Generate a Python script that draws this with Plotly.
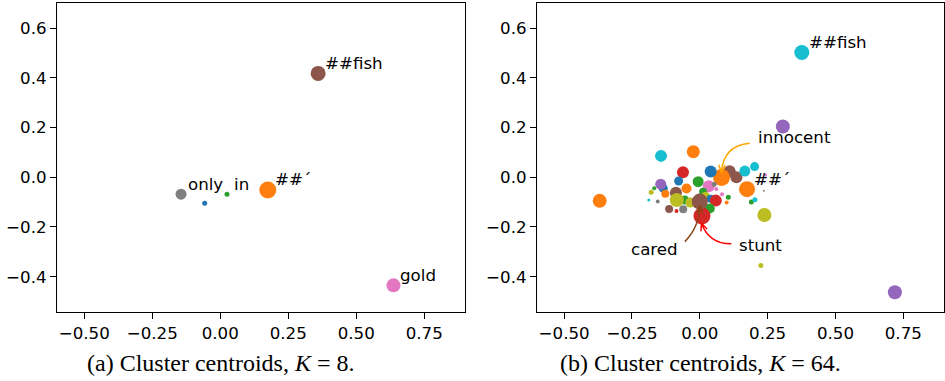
import math
import plotly.graph_objects as go

# ---------------- data ----------------
TAB10 = {
    "blue": "#1f77b4", "orange": "#ff7f0e", "green": "#2ca02c", "red": "#d62728",
    "purple": "#9467bd", "brown": "#8c564b", "pink": "#e377c2", "gray": "#7f7f7f",
    "olive": "#bcbd22", "cyan": "#17becf",
}

# Panel (a): K = 8
k8_x = [-0.057, 0.175, 0.025, 0.360, 0.637, -0.144]
k8_y = [-0.105, -0.051, -0.068, 0.418, -0.435, -0.068]
k8_size = [5, 17, 5, 15, 14, 11]
k8_color = ["blue", "orange", "green", "brown", "pink", "gray"]
k8_label = ["", "##´", "in", "##fish", "gold", "only"]

# Panel (b): K = 64
k64_x = [0.376, 0.306, 0.719, 0.238, 0.225, -0.369, -0.143, -0.024, 0.110, 0.135,
         0.080, 0.166, 0.202, 0.040, -0.062, -0.078, -0.135, -0.144, -0.006, 0.033,
         0.053, 0.061, 0.082, -0.049, -0.088, -0.127, -0.168, -0.179, -0.188, -0.155,
         0.012, 0.021, -0.055, -0.085, -0.035, 0.040, 0.059, 0.037, 0.008, 0.000,
         -0.061, -0.113, -0.086, 0.105, 0.099, 0.190, 0.203, 0.236, 0.243, 0.174]
k64_y = [0.502, 0.204, -0.463, -0.152, -0.355, -0.095, 0.086, 0.103, 0.024, 0.000,
         -0.001, 0.025, 0.043, 0.023, 0.020, -0.015, -0.044, -0.028, -0.018, -0.036,
         -0.028, -0.047, -0.068, -0.045, -0.062, -0.066, -0.044, -0.060, -0.092, -0.098,
         -0.058, -0.076, -0.092, -0.092, -0.102, -0.086, -0.094, -0.126, -0.156, -0.098,
         -0.129, -0.128, -0.136, -0.080, -0.102, -0.100, -0.091, -0.054, 0.009, -0.048]
k64_size = [15, 14, 14, 14, 5, 14, 12, 13, 12, 12,
            17, 11, 9, 12, 12, 9, 9, 11, 11, 12,
            5, 4, 4, 10, 12, 8, 4, 5, 3, 4,
            8, 9, 9, 14, 10, 8, 12, 10, 17, 16,
            8, 8, 4, 5, 4, 5, 5, 2, 3, 16]
k64_color = ["cyan", "purple", "purple", "olive", "olive", "orange", "cyan", "orange", "brown", "brown",
             "orange", "cyan", "cyan", "blue", "red", "blue", "blue", "purple", "green", "pink",
             "gray", "pink", "pink", "orange", "brown", "orange", "green", "olive", "cyan", "gray",
             "green", "olive", "green", "olive", "olive", "blue", "red", "green", "red", "brown",
             "gray", "brown", "red", "green", "orange", "green", "cyan", "gray", "pink", "orange"]
k64_label = ["##fish"] + [""] * 48 + ["##´"]

# Curved-arrow annotations in panel (b): word, text anchor, arrow start, arrow tip, bend, colour
arrow_words = ["innocent", "cared", "stunt"]
arrow_text_xy = [(0.2085, 0.161), (-0.167, -0.290), (0.136, -0.275)]
arrow_text_anchor = ["left", "center", "left"]
arrow_start = [(0.184, 0.137), (-0.055, -0.259), (0.116, -0.268)]
arrow_tip = [(0.080, 0.020), (0.000, -0.115), (0.006, -0.185)]
arrow_rad = [0.43, 0.2, -0.35]
arrow_color = ["#ffa500", "#8b4513", "#ff0000"]

x_tickvals = [-0.5, -0.25, 0.0, 0.25, 0.5, 0.75]
x_ticktext = ["−0.50", "−0.25", "0.00", "0.25", "0.50", "0.75"]
y_tickvals = [-0.4, -0.2, 0.0, 0.2, 0.4, 0.6]
y_ticktext = ["−0.4", "−0.2", "0.0", "0.2", "0.4", "0.6"]

captions = ["(a) Cluster centroids, <i>K</i> = 8.", "(b) Cluster centroids, <i>K</i> = 64."]

# ---------------- layout constants ----------------
W, H = 945, 381
X_RANGE = [-0.6, 0.9]
Y_RANGE = [-0.541, 0.70]
DOM_X1 = [57 / W, 465 / W]
DOM_X2 = [537 / W, 944 / W]
DOM_Y = [(H - 311.7) / H, (H - 3.3) / H]
SANS = "DejaVu Sans"
FS = 16.67

fig = go.Figure()

def add_panel(xs, ys, sizes, colors, labels, xa, ya):
    for x, y, s, c in zip(xs, ys, sizes, colors):
        fig.add_trace(go.Scatter(
            x=[x], y=[y], mode="markers", xaxis=xa, yaxis=ya, showlegend=False,
            marker=dict(size=s, color=TAB10[c], line=dict(width=0)),
            hoverinfo="skip"))
    for x, y, lab in zip(xs, ys, labels):
        if lab:
            fig.add_annotation(x=x, y=y, xref=xa, yref=ya, text=lab, showarrow=False,
                               xanchor="left", yanchor="middle", xshift=5, yshift=10,
                               font=dict(family=SANS, size=FS, color="black"))

add_panel(k8_x, k8_y, k8_size, k8_color, k8_label, "x", "y")
add_panel(k64_x, k64_y, k64_size, k64_color, k64_label, "x2", "y2")

# curved arrows (matplotlib arc3 style), computed in pixel space
sx = (DOM_X2[1] - DOM_X2[0]) * W / (X_RANGE[1] - X_RANGE[0])
sy = (DOM_Y[1] - DOM_Y[0]) * H / (Y_RANGE[1] - Y_RANGE[0])

def curved_path(S, E, rad, head_len=8.0, head_ang=math.radians(24)):
    x1, y1 = S[0] * sx, S[1] * sy
    x2, y2 = E[0] * sx, E[1] * sy
    mx, my = (x1 + x2) / 2, (y1 + y2) / 2
    dx, dy = x2 - x1, y2 - y1
    cx, cy = mx + rad * dy, my - rad * dx
    ux, uy = x2 - cx, y2 - cy
    n = math.hypot(ux, uy)
    ux, uy = ux / n, uy / n
    pts = []
    for a in (head_ang, -head_ang):
        rx = ux * math.cos(a) - uy * math.sin(a)
        ry = ux * math.sin(a) + uy * math.cos(a)
        pts.append((x2 - head_len * rx, y2 - head_len * ry))
    f = lambda px, py: f"{px / sx:.5f},{py / sy:.5f}"
    return (f"M {f(x1, y1)} Q {f(cx, cy)} {f(x2, y2)} "
            f"M {f(*pts[0])} L {f(x2, y2)} L {f(*pts[1])}")

for word, txy, anc, S, E, rad, col in zip(arrow_words, arrow_text_xy, arrow_text_anchor,
                                           arrow_start, arrow_tip, arrow_rad, arrow_color):
    fig.add_shape(type="path", path=curved_path(S, E, rad), xref="x2", yref="y2",
                  line=dict(color=col, width=1.5))
    fig.add_annotation(x=txy[0], y=txy[1], xref="x2", yref="y2", text=word, showarrow=False,
                       xanchor=anc, yanchor="middle",
                       font=dict(family=SANS, size=FS, color="black"))

# captions
for cap, cx in zip(captions, [220.5, 700]):
    fig.add_annotation(x=cx / W, y=(H - 363) / H, xref="paper", yref="paper", text=cap,
                       showarrow=False, xanchor="center", yanchor="middle",
                       font=dict(family="Liberation Serif", size=24, color="black"))

axis_common = dict(showgrid=False, zeroline=False, showline=True, mirror=True,
                   linecolor="black", linewidth=1.2, ticks="outside", ticklen=6,
                   tickwidth=1, tickcolor="black", automargin=False,
                   tickfont=dict(family=SANS, size=FS, color="black"))

fig.update_layout(
    width=W, height=H, margin=dict(l=0, r=0, t=0, b=0),
    paper_bgcolor="white", plot_bgcolor="white", showlegend=False,
    xaxis=dict(domain=DOM_X1, range=X_RANGE, anchor="y", tickvals=x_tickvals,
               ticktext=x_ticktext, **axis_common),
    yaxis=dict(domain=DOM_Y, range=Y_RANGE, anchor="x", tickvals=y_tickvals,
               ticktext=y_ticktext, **axis_common),
    xaxis2=dict(domain=DOM_X2, range=X_RANGE, anchor="y2", tickvals=x_tickvals,
                ticktext=x_ticktext, **axis_common),
    yaxis2=dict(domain=DOM_Y, range=Y_RANGE, anchor="x2", tickvals=y_tickvals,
                ticktext=y_ticktext, **axis_common),
)

fig.write_html("out.html")
